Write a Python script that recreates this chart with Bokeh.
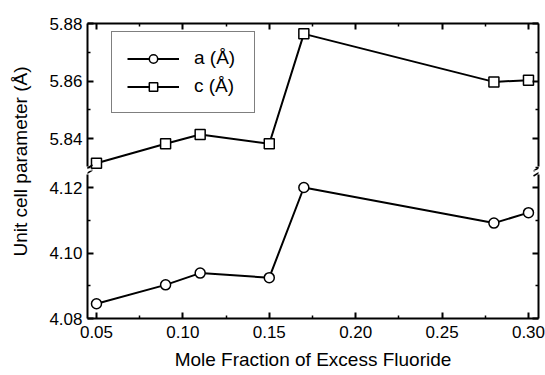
import math
from bokeh.plotting import figure
from bokeh.models import (Range1d, LinearAxis, FixedTicker, NumeralTickFormatter,
                          Legend, LegendItem, Label, Arrow)
from bokeh.layouts import row, column
from bokeh.embed import file_html
from bokeh.resources import INLINE

# ---------------- data ----------------
x_frac = [0.05, 0.09, 0.11, 0.15, 0.17, 0.28, 0.30]
a_vals = [4.0845, 4.0903, 4.0939, 4.0925, 4.1201, 4.1092, 4.1124]
c_vals = [5.8314, 5.8382, 5.8414, 5.8382, 5.8764, 5.8597, 5.8603]

x_ticks = [0.05, 0.10, 0.15, 0.20, 0.25, 0.30]
a_ticks = [4.08, 4.10, 4.12]
c_ticks = [5.84, 5.86, 5.88]

x_label = "Mole Fraction of Excess Fluoride"
y_label = "Unit cell parameter (Å)"
a_name = "a (Å)"
c_name = "c (Å)"

# ---------------- layout constants ----------------
FONT = "Liberation Sans"
LABEL_W = 36
PLOT_W = 545 - LABEL_W
BORDER_L = 51
BORDER_R = 7
FRAME_W = PLOT_W - BORDER_L - BORDER_R
TOP_BORDER = 23
TOP_FRAME_H = 147
BOT_FRAME_H = 148
BOT_BORDER = 57

x_lo, x_hi = 0.0448, 0.3058
c_lo, c_hi = 5.8289, 5.88
a_lo, a_hi = 4.08, 4.1253

x_range = Range1d(x_lo, x_hi)


def minor_of(ticks):
    step = ticks[1] - ticks[0]
    out = [t + step / 2 for t in ticks]
    out.insert(0, ticks[0] - step / 2)
    return out


def style_axis(ax, show_labels):
    ax.axis_line_width = 2
    ax.axis_line_color = "black"
    ax.major_tick_in = 6
    ax.major_tick_out = 0
    ax.minor_tick_in = 3
    ax.minor_tick_out = 0
    ax.major_tick_line_width = 2
    ax.minor_tick_line_width = 1.5
    ax.major_tick_line_color = "black"
    ax.minor_tick_line_color = "black"
    ax.major_label_text_font = FONT
    ax.formatter = NumeralTickFormatter(format="0.00")
    if show_labels:
        ax.major_label_text_color = "black"
        ax.major_label_text_font_size = "17px"
        ax.major_label_standoff = 5
    else:
        ax.major_label_text_color = None
        ax.major_label_text_font_size = "0px"
        ax.major_label_standoff = 0


# ---------------- top panel (c) ----------------
pt = figure(width=PLOT_W, height=TOP_BORDER + TOP_FRAME_H, x_range=x_range,
            y_range=Range1d(c_lo, c_hi), output_backend="svg", toolbar_location=None,
            x_axis_location="above", min_border_left=BORDER_L, min_border_right=BORDER_R,
            min_border_top=TOP_BORDER, min_border_bottom=0)
pt.outline_line_color = None
pt.grid.visible = False
pt.xaxis.ticker = FixedTicker(ticks=x_ticks, minor_ticks=minor_of(x_ticks))
pt.yaxis.ticker = FixedTicker(ticks=c_ticks, minor_ticks=minor_of(c_ticks))
for ax in pt.xaxis:
    style_axis(ax, False)
top_gap = 4 * (c_hi - c_lo) / TOP_FRAME_H
for ax in pt.yaxis:
    style_axis(ax, True)
    ax.bounds = (c_lo + top_gap, c_hi)
rt = LinearAxis(ticker=FixedTicker(ticks=c_ticks, minor_ticks=minor_of(c_ticks)),
                bounds=(c_lo + top_gap, c_hi))
style_axis(rt, False)
pt.add_layout(rt, "right")

lc = pt.line(x_frac, c_vals, line_color="black", line_width=2)
sc = pt.scatter(x_frac, c_vals, marker="square", size=10, fill_color="white",
                line_color="black", line_width=1.5)

# legend proxies for series a: same data, lies outside this panel's range (clipped)
la = pt.line(x_frac, a_vals, line_color="black", line_width=2)
sa = pt.scatter(x_frac, a_vals, marker="circle", size=10, fill_color="white",
                line_color="black", line_width=1.5)
legend = Legend(items=[LegendItem(label=a_name, renderers=[la, sa]),
                       LegendItem(label=c_name, renderers=[lc, sc])],
                location=(24, 57), padding=15, spacing=6, margin=0,
                glyph_width=52, glyph_height=21, label_height=21, label_width=45,
                label_standoff=15, label_text_font=FONT, label_text_font_size="19px",
                label_text_color="black",
                border_line_color="black", border_line_width=1,
                background_fill_color="white", background_fill_alpha=1)
pt.add_layout(legend)

# ---------------- bottom panel (a) ----------------
pb = figure(width=PLOT_W, height=BOT_FRAME_H + BOT_BORDER, x_range=x_range,
            y_range=Range1d(a_lo, a_hi), output_backend="svg", toolbar_location=None,
            min_border_left=BORDER_L, min_border_right=BORDER_R,
            min_border_top=0, min_border_bottom=BOT_BORDER)
pb.outline_line_color = None
pb.grid.visible = False
pb.xaxis.ticker = FixedTicker(ticks=x_ticks, minor_ticks=minor_of(x_ticks))
pb.yaxis.ticker = FixedTicker(ticks=a_ticks, minor_ticks=minor_of(a_ticks))
for ax in pb.xaxis:
    style_axis(ax, True)
    ax.major_label_standoff = 7
    ax.axis_label = x_label
    ax.axis_label_text_font = FONT
    ax.axis_label_text_font_size = "19px"
    ax.axis_label_text_font_style = "normal"
    ax.axis_label_text_color = "black"
    ax.axis_label_standoff = 8
bot_gap = 4 * (a_hi - a_lo) / BOT_FRAME_H
for ax in pb.yaxis:
    style_axis(ax, True)
    ax.bounds = (a_lo, a_hi - bot_gap)
rb = LinearAxis(ticker=FixedTicker(ticks=a_ticks, minor_ticks=minor_of(a_ticks)),
                bounds=(a_lo, a_hi - bot_gap))
style_axis(rb, False)
pb.add_layout(rb, "right")

pb.line(x_frac, a_vals, line_color="black", line_width=2)
pb.scatter(x_frac, a_vals, marker="circle", size=10, fill_color="white",
           line_color="black", line_width=1.5)

# ---------------- axis-break marks ----------------
px_x = (x_hi - x_lo) / FRAME_W


def add_breaks(p, y_edge, px_y):
    for xe in (x_lo, x_hi):
        for off in (-2.5, 2.5):
            p.add_layout(Arrow(end=None, line_color="black", line_width=1.5,
                               x_start=xe - 5 * px_x, y_start=y_edge + (off - 3) * px_y,
                               x_end=xe + 5 * px_x, y_end=y_edge + (off + 3) * px_y))


add_breaks(pt, c_lo, (c_hi - c_lo) / TOP_FRAME_H)
add_breaks(pb, a_hi, (a_hi - a_lo) / BOT_FRAME_H)

# ---------------- y label strip ----------------
pl = figure(width=LABEL_W, height=375, x_range=Range1d(0, 1), y_range=Range1d(0, 1),
            output_backend="svg", toolbar_location=None, x_axis_type=None,
            y_axis_type=None, min_border=0)
pl.outline_line_color = None
pl.grid.visible = False
pl.add_layout(Label(x=20 / LABEL_W, y=1 - 161 / 375, text=y_label, angle=math.pi / 2,
                    text_align="center", text_baseline="middle", text_font=FONT,
                    text_font_size="19px", text_color="black"))

layout = row(pl, column(pt, pb, spacing=0), spacing=0)
open("out.html", "w").write(file_html(layout, INLINE))
